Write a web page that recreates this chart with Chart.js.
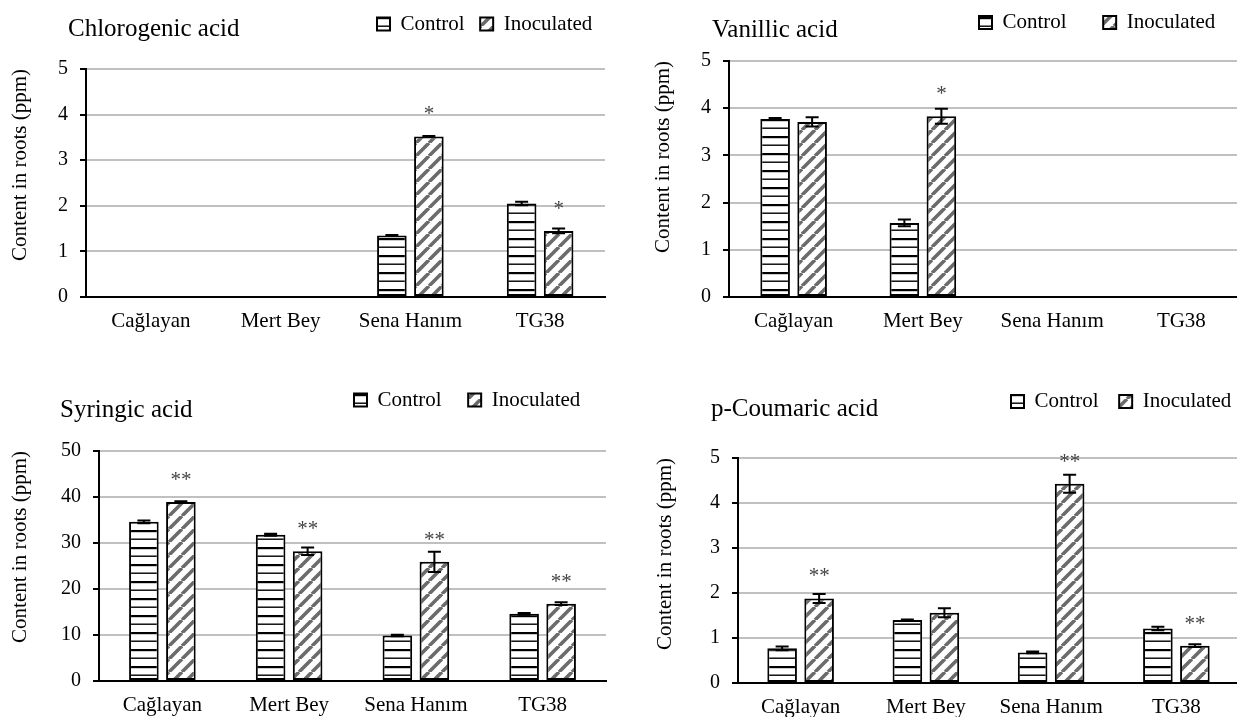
<!DOCTYPE html>
<html>
<head>
<meta charset="utf-8">
<script src="https://cdn.jsdelivr.net/npm/chart.js@4.4.1/dist/chart.umd.min.js"></script>
<style>
  html, body { margin: 0; padding: 0; width: 1237px; height: 717px; overflow: hidden; background: #fff; }
  .panel { position: absolute; }
  .ttl { position: absolute; font-family: 'Liberation Serif', 'Times New Roman', serif; font-size: 25px; line-height: 25px; color: #000; white-space: nowrap; }
</style>
</head>
<body>
<script>
// data
const categories = ['Cağlayan', 'Mert Bey', 'Sena Hanım', 'TG38'];
const seriesNames = ['Control', 'Inoculated'];
const yAxisTitle = 'Content in roots (ppm)';

const chlorogenicControl = [0, 0, 1.35, 2.05];
const chlorogenicInoculated = [0, 0, 3.52, 1.45];
const chlorogenicControlErr = [0, 0, 0.01, 0.04];
const chlorogenicInoculatedErr = [0, 0, 0.01, 0.05];
const chlorogenicSig = ['', '', '*', '*'];

const vanillicControl = [3.77, 1.57, 0, 0];
const vanillicInoculated = [3.71, 3.83, 0, 0];
const vanillicControlErr = [0.02, 0.07, 0, 0];
const vanillicInoculatedErr = [0.1, 0.16, 0, 0];
const vanillicSig = ['', '*', '', ''];

const syringicControl = [34.6, 31.8, 9.9, 14.6];
const syringicInoculated = [38.9, 28.2, 25.9, 16.8];
const syringicControlErr = [0.3, 0.2, 0.15, 0.2];
const syringicInoculatedErr = [0.2, 0.8, 2.2, 0.3];
const syringicSig = ['**', '**', '**', '**'];

const coumaricControl = [0.77, 1.40, 0.68, 1.21];
const coumaricInoculated = [1.88, 1.56, 4.43, 0.83];
const coumaricControlErr = [0.04, 0.01, 0.02, 0.04];
const coumaricInoculatedErr = [0.1, 0.1, 0.2, 0.03];
const coumaricSig = ['**', '', '**', '**'];

const FONT = "'Liberation Serif', 'Times New Roman', serif";
Chart.defaults.font.family = FONT;
Chart.defaults.color = '#000';

// layout of each panel on the page
const panels = [
    { title: 'Chlorogenic acid', control: chlorogenicControl, inoculated: chlorogenicInoculated,
      controlErr: chlorogenicControlErr, inoculatedErr: chlorogenicInoculatedErr, sig: chlorogenicSig,
      yMax: 5, yStep: 1,
      left: 0, top: 0, width: 620, height: 350,
      area: { left: 86, top: 69, right: 605, bottom: 297 },
      titleX: 68, titleY: 15, legendX: 377, legendY: 24, legendGap: 15.5, yTitlePad: 7.4 },
    { title: 'Vanillic acid', control: vanillicControl, inoculated: vanillicInoculated,
      controlErr: vanillicControlErr, inoculatedErr: vanillicInoculatedErr, sig: vanillicSig,
      yMax: 5, yStep: 1,
      left: 620, top: 0, width: 640, height: 350,
      area: { left: 729, top: 61, right: 1246, bottom: 297 },
      titleX: 712, titleY: 16, legendX: 979, legendY: 22.5, legendGap: 36.5, yTitlePad: 30.4 },
    { title: 'Syringic acid', control: syringicControl, inoculated: syringicInoculated,
      controlErr: syringicControlErr, inoculatedErr: syringicInoculatedErr, sig: syringicSig,
      yMax: 50, yStep: 10,
      left: 0, top: 360, width: 620, height: 357,
      area: { left: 99, top: 451, right: 606, bottom: 681 },
      titleX: 60, titleY: 396, legendX: 354, legendY: 400, legendGap: 26.5, yTitlePad: 7.4 },
    { title: 'p-Coumaric acid', control: coumaricControl, inoculated: coumaricInoculated,
      controlErr: coumaricControlErr, inoculatedErr: coumaricInoculatedErr, sig: coumaricSig,
      yMax: 5, yStep: 1,
      left: 620, top: 360, width: 640, height: 357,
      area: { left: 738, top: 458, right: 1239, bottom: 683 },
      titleX: 711, titleY: 395, legendX: 1011, legendY: 401.5, legendGap: 20.5, yTitlePad: 32.4 }
];

function makeHorizontalPattern() {
    const c = document.createElement('canvas');
    c.width = 4; c.height = 17;
    const g = c.getContext('2d');
    g.fillStyle = '#fff';
    g.fillRect(0, 0, 4, 17);
    g.fillStyle = '#000';
    g.fillRect(0, 0, 4, 2.2);
    g.fillRect(0, 8.5, 4, 1.4);
    return g.createPattern(c, 'repeat');
}

function makeDiagonalPattern() {
    const s = 13;
    const c = document.createElement('canvas');
    c.width = s; c.height = s;
    const g = c.getContext('2d');
    g.fillStyle = '#fff';
    g.fillRect(0, 0, s, s);
    g.strokeStyle = '#6b6b6b';
    g.lineWidth = 3.6;
    g.beginPath();
    for (let k = -1; k <= 1; k++) {
        g.moveTo(k * s, s);
        g.lineTo(k * s + s, 0);
    }
    g.stroke();
    return g.createPattern(c, 'repeat');
}

const controlFill = makeHorizontalPattern();
const inoculatedFill = makeDiagonalPattern();

// error bars and significance marks
const errorBars = {
    id: 'errorBars',
    afterDatasetsDraw(chart) {
        const ctx = chart.ctx;
        const y = chart.scales.y;
        chart.data.datasets.forEach((ds, i) => {
            const meta = chart.getDatasetMeta(i);
            meta.data.forEach((bar, j) => {
                const v = ds.data[j];
                const e = ds.errors[j];
                const top = y.getPixelForValue(v + e);
                const bot = y.getPixelForValue(Math.max(v - e, 0));
                ctx.save();
                ctx.strokeStyle = '#000';
                ctx.lineWidth = 2;
                ctx.beginPath();
                ctx.moveTo(bar.x, top); ctx.lineTo(bar.x, bot);
                ctx.moveTo(bar.x - 6.5, top); ctx.lineTo(bar.x + 6.5, top);
                ctx.moveTo(bar.x - 6.5, bot); ctx.lineTo(bar.x + 6.5, bot);
                ctx.stroke();
                if (ds.sig && ds.sig[j]) {
                    ctx.fillStyle = '#444';
                    ctx.font = '21px ' + FONT;
                    ctx.textAlign = 'center';
                    ctx.textBaseline = 'alphabetic';
                    ctx.fillText(ds.sig[j], bar.x, y.getPixelForValue(v) - 16);
                }
                ctx.restore();
            });
        });
    }
};

// put the legend where the figure has it
const legendPlace = {
    id: 'legendPlace',
    afterLayout(chart, args, opts) {
        const legend = chart.legend;
        if (!legend) return;
        const pad = legend.options.labels.padding;
        const w = legend.width;
        legend.left = opts.x - pad;
        legend.right = legend.left + w;
        legend.top = opts.y - pad - 21 / 2;
        legend.height = 21 + 2 * pad + 10;
        legend.bottom = legend.top + legend.height;
    }
};

panels.forEach(p => {
    const div = document.createElement('div');
    div.className = 'panel';
    div.style.left = p.left + 'px';
    div.style.top = p.top + 'px';
    const canvas = document.createElement('canvas');
    canvas.width = p.width;
    canvas.height = p.height;
    div.appendChild(canvas);
    document.body.appendChild(div);

    const ttl = document.createElement('div');
    ttl.className = 'ttl';
    ttl.textContent = p.title;
    ttl.style.left = p.titleX + 'px';
    ttl.style.top = p.titleY + 'px';
    document.body.appendChild(ttl);

    const catW = (p.area.right - p.area.left) / categories.length;
    const yW = p.area.left - p.left;
    const xH = p.top + p.height - p.area.bottom;

    const chart = new Chart(canvas, {
        type: 'bar',
        data: {
            labels: categories,
            datasets: [
                { label: seriesNames[0], data: p.control, errors: p.controlErr,
                  backgroundColor: controlFill, borderColor: '#000', borderWidth: 2, borderSkipped: false },
                { label: seriesNames[1], data: p.inoculated, errors: p.inoculatedErr, sig: p.sig,
                  backgroundColor: inoculatedFill, borderColor: '#000', borderWidth: 2, borderSkipped: false }
            ]
        },
        options: {
            responsive: false,
            animation: false,
            categoryPercentage: 74 / catW,
            barPercentage: 0.8,
            layout: {
                padding: { left: 0, top: p.area.top - p.top - 1, right: p.left + p.width - p.area.right, bottom: 0 }
            },
            plugins: {
                legend: {
                    position: 'top',
                    align: 'start',
                    maxHeight: 1,
                    labels: { boxWidth: 13, boxHeight: 13, padding: p.legendGap, font: { size: 21 }, color: '#000' }
                },
                tooltip: { enabled: false },
                legendPlace: { x: p.legendX - p.left, y: p.legendY - p.top }
            },
            scales: {
                x: {
                    grid: { display: false, drawTicks: false },
                    border: { color: '#000', width: 2 },
                    ticks: { font: { size: 21 }, color: '#000', padding: 12, maxRotation: 0, autoSkip: false },
                    afterFit: s => { s.height = xH; }
                },
                y: {
                    min: 0,
                    max: p.yMax,
                    ticks: { stepSize: p.yStep, font: { size: 20 }, color: '#000', padding: 12 },
                    grid: { color: '#c0c0c0', lineWidth: 2, tickColor: '#000', tickLength: 6 },
                    border: { color: '#000', width: 2 },
                    title: { display: true, text: yAxisTitle, font: { size: 21 }, color: '#000',
                             align: 'end', padding: { top: p.yTitlePad, bottom: 0 } },
                    afterFit: s => { s.width = yW; }
                }
            }
        },
        plugins: [errorBars, legendPlace]
    });

    // correct the plot top if the layout moved it
    const dt = (p.area.top - p.top) - chart.chartArea.top;
    if (Math.abs(dt) > 0.5) {
        chart.options.layout.padding.top += dt;
        chart.update();
    }
});
</script>
</body>
</html>
